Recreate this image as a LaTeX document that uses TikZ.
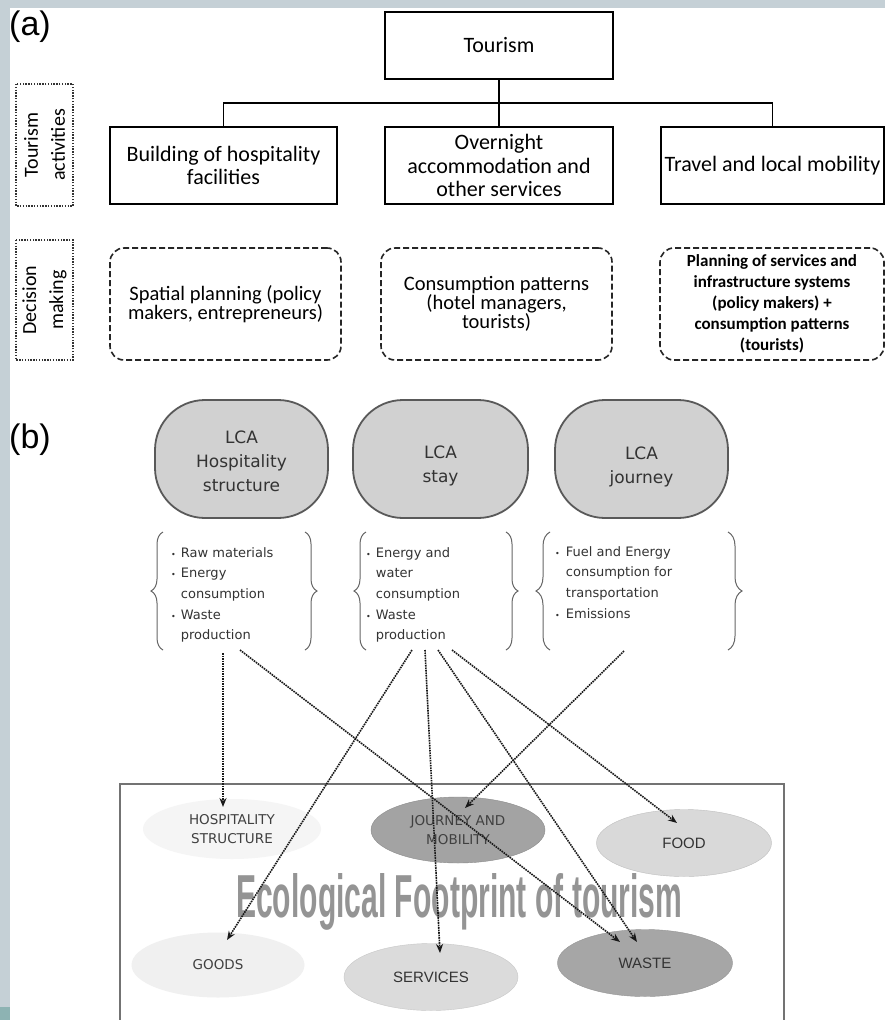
\documentclass[tikz,border=0pt]{standalone}
\usepackage{fontspec}
\setmainfont{Carlito}
\newfontfamily\arialf{Liberation Sans}
\newfontfamily\comic{DejaVu Sans}
\usetikzlibrary{shapes.geometric,arrows.meta,decorations.pathreplacing}
\definecolor{bandgrey}{HTML}{C5D0D6}
\definecolor{bandteal}{HTML}{8DB3B3}
\begin{document}
\begin{tikzpicture}[x=1pt,y=1pt,
  box/.style={draw=black, line width=1.6pt, align=center, inner sep=0pt,
    font=\fontsize{22}{23.5}\selectfont},
  dmbox/.style={draw=black!85, line width=1.6pt, dash pattern=on 6pt off 3pt,
    rounded corners=14pt, align=center, inner sep=0pt, minimum height=112pt},
  sidebox/.style={draw=black!80, line width=1.4pt, dash pattern=on 1.4pt off 1.4pt,
    rotate=90, align=center, inner sep=0pt, minimum height=57pt,
    font=\fontsize{20}{27}\selectfont},
  conn/.style={draw=black, line width=1.6pt},
  lca/.style={draw=black!65, line width=1.8pt, fill=black!18, rounded corners=50pt,
    minimum height=118pt, inner sep=0pt},
  lcatext/.style={align=center, inner sep=0pt, text=black!80,
    font=\comic\fontsize{17}{24}\selectfont},
  lst/.style={anchor=north west, inner sep=0pt, text=black!80,
    font=\comic\fontsize{13}{20.7}\selectfont},
  brc/.style={draw=black!60, line width=1pt, decorate,
    decoration={brace, amplitude=12pt}},
  fpe/.style={ellipse, inner sep=0pt, align=center, text=black!75,
    font=\comic\fontsize{13.5}{19}\selectfont},
  fpa/.style={ellipse, inner sep=0pt, align=center, text=black!80,
    font=\arialf\fontsize{15}{19}\selectfont},
  arr/.style={draw=black!90, line width=1.6pt, dash pattern=on 1.6pt off 0.9pt,
    -{Stealth[length=9pt,width=7pt]}}
]
\newcommand{\bul}{{\fontsize{8}{8}\selectfont\textbullet}}
\useasboundingbox (0,0) rectangle (885,-1020);
\fill[white] (0,0) rectangle (885,-1020);
\fill[bandgrey] (0,0) rectangle (885,-8);
\fill[bandgrey] (0,0) rectangle (10,-1007);
\fill[bandteal] (0,-1007) rectangle (10,-1020);

% ---------------- (a) ----------------
\node[anchor=west, inner sep=0pt, font=\arialf\fontsize{34}{34}\selectfont] (la) at (9,-27) {(a)};

\node[box, minimum width=228pt, minimum height=67pt] (T) at (499,-45.5) {Tourism};
\node[box, minimum width=227pt, minimum height=77pt] (A1) at (223.5,-165.5) {Building of hospitality\\facilities};
\node[box, minimum width=228pt, minimum height=77pt] (A2) at (499,-165.5) {Overnight\\accommodation and\\other services};
\node[box, minimum width=223pt, minimum height=77pt] (A3) at (772.5,-165.5) {Travel and local mobility};

\coordinate (bar) at (499,-103);
\draw[conn] (T.south) -- (bar);
\draw[conn] (bar) -- (A2.north);
\draw[conn] (A1.north) |- (bar);
\draw[conn] (A3.north) |- (bar);

\node[sidebox, minimum width=122pt] (S1) at (44.5,-145) {Tourism\\activities};
\node[sidebox, minimum width=120pt] (S2) at (44.5,-300) {Decision\\making};

\node[dmbox, minimum width=231pt, font=\fontsize{20.5}{19}\selectfont] (D1) at (225.5,-304) {Spatial planning (policy\\makers, entrepreneurs)};
\node[dmbox, minimum width=231pt, font=\fontsize{20.5}{19}\selectfont] (D2) at (496.5,-304) {Consumption patterns\\(hotel managers,\\tourists)};
\node[dmbox, minimum width=224pt, font=\bfseries\fontsize{17}{21}\selectfont] (D3) at (772,-304) {Planning of services and\\infrastructure systems\\(policy makers) +\\consumption patterns\\(tourists)};

% ---------------- (b) ----------------
\node[anchor=west, inner sep=0pt, font=\arialf\fontsize{34}{34}\selectfont] (lb) at (9,-440) {(b)};

\node[lca, minimum width=173pt] (L1) at (241.5,-459) {};
\node[lca, minimum width=175pt] (L2) at (440.5,-459) {};
\node[lca, minimum width=173pt] (L3) at (641.5,-459) {};
\node[lcatext] (L1t) at (241.5,-461) {LCA\\Hospitality\\structure};
\node[lcatext] (L2t) at (440.5,-466) {LCA\\stay};
\node[lcatext] (L3t) at (641.5,-467) {LCA\\journey};

\draw[brc] (163,-650) -- (163,-532);
\draw[brc] (305,-532) -- (305,-650);
\draw[brc] (366,-650) -- (366,-532);
\draw[brc] (506,-532) -- (506,-650);
\draw[brc, decoration={brace, amplitude=14pt}] (550,-650) -- (550,-532);
\draw[brc, decoration={brace, amplitude=14pt}] (728,-532) -- (728,-650);

\node[lst] (P1) at (171,-542.5) {\begin{tabular}{@{}l@{\hspace{5pt}}l@{}}
\bul & Raw materials\\ \bul & Energy\\ & consumption\\ \bul & Waste\\ & production\end{tabular}};
\node[lst] (P2) at (366,-542.5) {\begin{tabular}{@{}l@{\hspace{5pt}}l@{}}
\bul & Energy and\\ & water\\ & consumption\\ \bul & Waste\\ & production\end{tabular}};
\node[lst] (P3) at (555,-541.5) {\begin{tabular}{@{}l@{\hspace{6pt}}l@{}}
\bul & Fuel and Energy\\ & consumption for\\ & transportation\\ \bul & Emissions\end{tabular}};

% footprint frame
\node[draw=black!55, line width=1.2pt, minimum width=664pt, minimum height=238pt, inner sep=0pt] (EF) at (452,-903) {};

\node[fpe, fill=black!4, minimum width=178pt, minimum height=60pt] (HS) at (232,-829) {HOSPITALITY\\STRUCTURE};
\node[fpe, fill=black!36, draw=black!45, minimum width=174pt, minimum height=66pt] (JM) at (458,-830) {JOURNEY AND\\MOBILITY};
\node[fpa, fill=black!15, draw=black!25, minimum width=175pt, minimum height=67pt] (FD) at (684,-843) {FOOD};
\node[fpe, fill=black!6, minimum width=173pt, minimum height=65pt] (GD) at (218,-965) {GOODS};
\node[fpa, fill=black!14, draw=black!22, minimum width=174pt, minimum height=67pt] (SV) at (431,-977) {SERVICES};
\node[fpa, fill=black!35, draw=black!42, minimum width=175pt, minimum height=67pt] (WS) at (645,-963) {WASTE};

\node[anchor=base west, inner sep=0pt, text=black!42, font=\arialf\bfseries] (EFt) at (236,-917) {\resizebox{446pt}{44pt}{Ecological Footprint of tourism}};

% arrows
\coordinate (s1) at (223,-653);  \coordinate (e1) at (223,-807);
\coordinate (s2) at (240,-650);  \coordinate (e2) at (620,-942);
\coordinate (s3) at (412,-650);  \coordinate (e3) at (227,-940);
\coordinate (s4) at (425,-650);  \coordinate (e4) at (440,-953);
\coordinate (s5) at (438,-650);  \coordinate (e5) at (637,-942);
\coordinate (s6) at (452,-650);  \coordinate (e6) at (677,-823);
\coordinate (s7) at (624,-651);  \coordinate (e7) at (465,-808);
\draw[arr] (s1) -- (e1);
\draw[arr] (s2) -- (e2);
\draw[arr] (s3) -- (e3);
\draw[arr] (s4) -- (e4);
\draw[arr] (s5) -- (e5);
\draw[arr] (s6) -- (e6);
\draw[arr] (s7) -- (e7);
\end{tikzpicture}
\end{document}
